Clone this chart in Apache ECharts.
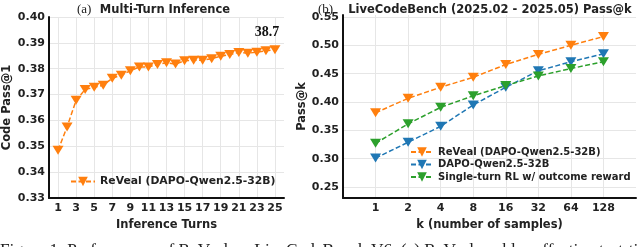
<!DOCTYPE html>
<html><head><meta charset="utf-8">
<script src="https://cdn.jsdelivr.net/npm/echarts@6/dist/echarts.min.js"></script>
<style>html,body{margin:0;padding:0;background:#fff}#c{width:640px;height:247px}</style>
</head><body><div id="c"></div>
<script>
const turns = [1,2,3,4,5,6,7,8,9,10,11,12,13,14,15,16,17,18,19,20,21,22,23,24,25];
const revealTurns = [0.3485,0.3575,0.3678,0.3720,0.3728,0.3736,0.3763,0.3775,0.3792,0.3807,0.3807,0.3816,0.3823,0.3818,0.3831,0.3833,0.3833,0.3839,0.3848,0.3855,0.3863,0.3860,0.3864,0.3869,0.3873];
const turnTicks = [1,3,5,7,9,11,13,15,17,19,21,23,25];
const leftYTicks = [0.33,0.34,0.35,0.36,0.37,0.38,0.39,0.40];

const kLabels = ['1','2','4','8','16','32','64','128'];
const revealK = [0.381,0.4065,0.426,0.4436,0.466,0.484,0.500,0.5155];
const dapoK = [0.301,0.329,0.357,0.3947,0.426,0.455,0.471,0.485];
const singleK = [0.327,0.3614,0.3906,0.411,0.429,0.446,0.459,0.471];
const rightYTicks = [0.25,0.30,0.35,0.40,0.45,0.50,0.55];

const seriesNames = ['ReVeal (DAPO-Qwen2.5-32B)','DAPO-Qwen2.5-32B','Single-turn RL w/ outcome reward'];
const colors = ['#ff7f0e','#1f77b4','#2ca02c'];

const F = 'DejaVu Sans';
const lab = {fontFamily:F, fontWeight:'bold', fontSize:11, color:'#222'};
const split = {show:true, lineStyle:{color:'#e6e6e6', width:1}};
const axLine = {show:true, onZero:false, lineStyle:{color:'#111', width:2}};
const nameStyle = {fontFamily:F, fontWeight:'bold', fontSize:11.5, color:'#222'};

function lineSeries(name, color, data, idx) {
  return {
    type:'line', name, xAxisIndex:idx, yAxisIndex:idx, data,
    symbol:'triangle', symbolRotate:180, symbolSize:[11,9],
    itemStyle:{color}, lineStyle:{color, width:1.5, type:[5,2.5]},
    animation:false
  };
}

const chart = echarts.init(document.getElementById('c'), null, {renderer:'canvas'});
const leftData = revealTurns.map((v,i)=>[turns[i], v]);
leftData[leftData.length-1] = {value:leftData[leftData.length-1], label:{
  show:true, position:'top', offset:[-8,-1], formatter:p=>(p.value[1]*100).toFixed(1),
  fontFamily:'Liberation Serif', fontWeight:'bold', fontSize:14, color:'#111'}};
const mk = arr => arr.map((v,i)=>[i, v]);
const rightNames = seriesNames.map(n=>n+' ');

chart.setOption({
  animation:false,
  grid:[
    {left:48, top:17, width:236, height:181},
    {left:343, top:15, width:293, height:183}
  ],
  xAxis:[
    {type:'value', gridIndex:0, min:0, max:26,
     axisLine:axLine, axisTick:{show:false, customValues:turnTicks},
     axisLabel:Object.assign({customValues:turnTicks, margin:5}, lab),
     splitLine:split,
     name:'Inference Turns', nameLocation:'middle', nameGap:13,
     nameTextStyle:Object.assign({verticalAlign:'top'}, nameStyle)},
    {type:'value', gridIndex:1, min:-1, max:8,
     axisLine:axLine, axisTick:{show:false, customValues:[0,1,2,3,4,5,6,7]},
     axisLabel:Object.assign({customValues:[0,1,2,3,4,5,6,7], margin:5, formatter:v=>kLabels[Math.round(v)]}, lab),
     splitLine:split,
     name:'k (number of samples)', nameLocation:'middle', nameGap:13,
     nameTextStyle:Object.assign({verticalAlign:'top'}, nameStyle)}
  ],
  yAxis:[
    {type:'value', gridIndex:0, min:0.33, max:0.40,
     axisLine:axLine, axisTick:{show:false, customValues:leftYTicks},
     axisLabel:Object.assign({customValues:leftYTicks, margin:4, formatter:v=>v.toFixed(2)}, lab),
     splitLine:split,
     name:'Code Pass@1', nameLocation:'middle', nameGap:36, nameRotate:90,
     nameTextStyle:nameStyle},
    {type:'value', gridIndex:1, min:0.2306, max:0.5535,
     axisLine:axLine, axisTick:{show:false, customValues:rightYTicks},
     axisLabel:Object.assign({customValues:rightYTicks, margin:4, formatter:v=>v.toFixed(2)}, lab),
     splitLine:split,
     name:'Pass@k', nameLocation:'middle', nameGap:29, nameRotate:90,
     nameTextStyle:nameStyle}
  ],
  legend:[
    {data:[seriesNames[0]], left:70, top:176, padding:0, itemWidth:24, itemHeight:12, itemGap:0,
     textStyle:Object.assign({}, lab, {fontSize:10.8}), symbolRotate:'inherit'},
    {data:rightNames, orient:'vertical', left:410, top:147, padding:0, itemWidth:22, itemHeight:12, itemGap:2.5,
     textStyle:Object.assign({}, lab, {fontSize:10}), symbolRotate:'inherit', formatter:n=>n.trim()}
  ],
  series:[
    lineSeries(seriesNames[0], colors[0], leftData, 0),
    lineSeries(rightNames[0], colors[0], mk(revealK), 1),
    lineSeries(rightNames[1], colors[1], mk(dapoK), 1),
    lineSeries(rightNames[2], colors[2], mk(singleK), 1)
  ],
  graphic:[
    {type:'text', left:77, top:3, style:{text:'(a)', font:'13px "Liberation Serif"', fill:'#222'}},
    {type:'text', x:165, y:4, style:{text:'Multi-Turn Inference', font:'bold 11.5px "DejaVu Sans"', fill:'#222', align:'center', verticalAlign:'top'}},
    {type:'text', left:318, top:3, style:{text:'(b)', font:'13px "Liberation Serif"', fill:'#222'}},
    {type:'text', x:490, y:4, style:{text:'LiveCodeBench (2025.02 - 2025.05) Pass@k', font:'bold 11.5px "DejaVu Sans"', fill:'#222', align:'center', verticalAlign:'top'}},
    {type:'text', x:0, y:242, style:{text:'Figure 1: Performance of ReVeal on LiveCodeBench V6. (a) ReVeal enables effective test-time scaling', font:'17.3px "Liberation Serif"', fill:'#222', verticalAlign:'top'}}
  ]
});
</script></body></html>
